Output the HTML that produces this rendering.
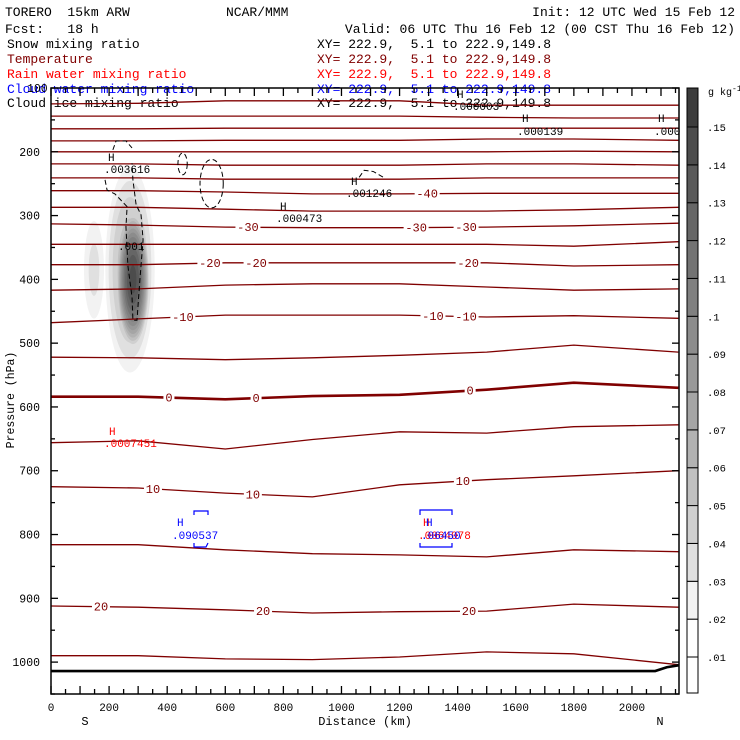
<!DOCTYPE html>
<html><head><meta charset="utf-8">
<style>
html,body{margin:0;padding:0;background:#fff;}
svg{display:block;}
text{font-family:"Liberation Mono",monospace;white-space:pre;}
</style></head>
<body>
<svg id="chart" width="740" height="740" viewBox="0 0 740 740" xmlns="http://www.w3.org/2000/svg" xml:space="preserve">
<g font-size="13">
<text x="5" y="16">TORERO  15km ARW</text>
<text x="226" y="16">NCAR/MMM</text>
<text x="735" y="16" text-anchor="end">Init: 12 UTC Wed 15 Feb 12</text>
<text x="5" y="33">Fcst:   18 h</text>
<text x="735" y="33" text-anchor="end">Valid: 06 UTC Thu 16 Feb 12 (00 CST Thu 16 Feb 12)</text>
<text x="7" y="48">Snow mixing ratio</text>
<text x="7" y="63" fill="#800000">Temperature</text>
<text x="7" y="78" fill="#ff0000">Rain water mixing ratio</text>
<text x="7" y="93" fill="#0000ff">Cloud water mixing ratio</text>
<text x="7" y="107">Cloud ice mixing ratio</text>
<text x="317" y="48">XY= 222.9,  5.1 to 222.9,149.8</text>
<text x="317" y="63" fill="#800000">XY= 222.9,  5.1 to 222.9,149.8</text>
<text x="317" y="78" fill="#ff0000">XY= 222.9,  5.1 to 222.9,149.8</text>
<text x="317" y="93" fill="#0000ff">XY= 222.9,  5.1 to 222.9,149.8</text>
<text x="317" y="107">XY= 222.9,  5.1 to 222.9,149.8</text>
</g>
<g id="shade"></g>
<g id="temps"></g>
<g id="ice"></g>
<g id="tlabels"></g>
<g id="ground"></g>
<g id="axes"></g>
<g font-size="11">
<text x="108" y="161">H</text>
<text x="104" y="173">.003616</text>
<text x="118" y="250">.001</text>
<text x="280" y="210">H</text>
<text x="276" y="222">.000473</text>
<text x="351" y="185">H</text>
<text x="346" y="197">.001246</text>
<text x="457" y="98">H</text>
<text x="453" y="110">.000003</text>
<text x="522" y="122">H</text>
<text x="517" y="135">.000139</text>
<text x="658" y="122">H</text>
<text x="654" y="135">.000</text>
<text x="109" y="435" fill="#ff0000">H</text>
<text x="104" y="447" fill="#ff0000">.0007451</text>
<text x="177" y="526" fill="#0000ff">H</text>
<text x="172" y="539" fill="#0000ff">.090537</text>
<text x="423" y="526" fill="#ff0000">H</text>
<text x="426" y="526" fill="#0000ff">H</text>
<text x="418" y="539" fill="#ff0000">.0064078</text>
<text x="421" y="539" fill="#0000ff">.06450</text>
<path d="M194,515 V511 H208 V515 M194,543 V547 H206 L208,543" fill="none" stroke="#0000ff" stroke-width="1.2"/>
<path d="M420,515 V510 H452 V515 M420,543 V547 H452 V543" fill="none" stroke="#0000ff" stroke-width="1.2"/>
</g>
<g id="cbar"></g>
<text x="708" y="95" font-size="10">g kg<tspan dy="-4" font-size="8">-1</tspan></text>
<text x="14" y="400" font-size="11.5" transform="rotate(-90 14 400)" text-anchor="middle" font-family="Liberation Sans">Pressure (hPa)</text>
<text x="365" y="725" font-size="12" text-anchor="middle">Distance (km)</text>
<text x="85" y="725" font-size="12" text-anchor="middle">S</text>
<text x="660" y="725" font-size="12" text-anchor="middle">N</text>
</svg>
<script>
// ---- data ----
const dists = [0, 300, 600, 900, 1200, 1500, 1800, 2160];
const tempLevels = [-75,-70,-65,-60,-55,-50,-45,-40,-35,-30,-25,-20,-15,-10,-5,0,5,10,15,20,25];
const tempP = [
 [125,124,120,120,120,127,127,127],
 [144,144,144,144,144,146,147,147],
 [164,164,163,163,163,163,163,163],
 [183,183,182,182,182,180,180,182],
 [200,200,200,200,200,200,199,200],
 [219,219,221,221,221,219,219,221],
 [241,241,243,243,243,241,241,241],
 [261,261,263,266,266,265,265,265],
 [287,287,290,293,293,293,291,287],
 [313,315,318,319,319,318,316,312],
 [345,345,345,345,345,345,348,341],
 [377,377,374,374,374,374,379,377],
 [417,415,409,407,407,412,417,415],
 [468,462,456,456,456,459,457,461],
 [522,523,526,523,519,514,503,514],
 [584,584,588,583,581,573,562,570],
 [656,653,666,651,639,641,631,628],
 [725,727,735,741,722,714,708,700],
 [816,816,824,830,832,835,824,827],
 [912,914,918,923,921,920,909,914],
 [990,990,995,996,992,984,987,1004]
];
const labelLevels = [-40,-30,-30,-30,-20,-20,-20,-10,-10,-10,0,0,0,10,10,10,20,20,20];
const labelDists  = [1295,678,1257,1429,547,706,1436,454,1315,1429,406,706,1443,351,695,1418,172,730,1439];
const groundDists = [0, 2080, 2120, 2160];
const groundP = [1014, 1014, 1008, 1005];
const shadeLevels = [0.01,0.02,0.03,0.04,0.05,0.06,0.07,0.08,0.09,0.10,0.11,0.12,0.13,0.14,0.15];
const shadeColors = ["#ffffff","#f2f2f2","#e0e0e0","#d0d0d0","#c0c0c0","#b2b2b2","#a5a5a5","#999999","#8c8c8c","#808080","#737373","#666666","#595959","#4c4c4c","#3c3c3c"];
const blobDist = [272, 282, 148];
const blobP = [385, 400, 385];
const blobSx = [95, 62, 45];
const blobSy = [180, 115, 100];
const blobPeak = [0.06, 0.145, 0.034];
const iceOvalDist = [453, 553];
const iceOvalP = [219, 250];
const iceOvalRx = [16, 40];
const iceOvalRy = [17, 38];
const iceArchD = [213,224,258,279];
const iceArchP = [197,183,183,194];
const iceTallD = [186,193,220,262,258,265,279,282,296,306,317,310,293,282,279];
const iceTallP = [244,260,266,286,318,380,428,464,464,401,338,299,283,244,218];
const iceSmallD = [1061,1078,1110,1144];
const iceSmallP = [240,229,231,240];
const pTicks = [100,200,300,400,500,600,700,800,900,1000];
const dTicks = [0,200,400,600,800,1000,1200,1400,1600,1800,2000];
const cbarLabels = [".01",".02",".03",".04",".05",".06",".07",".08",".09",".1",".11",".12",".13",".14",".15"];

// ---- axes ----
const L=51,R=679,T=88,B=694, DMAX=2162, PMIN=100, PMAX=1050;
const X = d => L + d*(R-L)/DMAX;
const Y = p => T + (p-PMIN)*(B-T)/(PMAX-PMIN);
const NS='http://www.w3.org/2000/svg';
function mk(tag, attrs, parent){const e=document.createElementNS(NS,tag);for(const k in attrs)e.setAttribute(k,attrs[k]);parent.appendChild(e);return e;}

// shading
const shade=document.getElementById('shade');
shadeLevels.forEach((lv,i)=>{
  blobDist.forEach((bd,j)=>{
    if(lv>=blobPeak[j]) return;
    const r=Math.sqrt((blobPeak[j]-lv)/(blobPeak[j]-0.01));
    const e=mk('ellipse',{cx:X(bd),cy:Y(blobP[j]),rx:(X(blobSx[j]*r)-L),ry:(Y(PMIN+blobSy[j]*r)-T),fill:shadeColors[i]},shade);
    
    
  });
});

// temperature contours
const temps=document.getElementById('temps');
tempLevels.forEach((lv,i)=>{
  const pts=dists.map((d,k)=>X(d).toFixed(1)+','+Y(tempP[i][k]).toFixed(1)).join(' ');
  const e=mk('polyline',{points:pts,fill:'none',stroke:'#800000','stroke-width':lv===0?2.6:1.3},temps);
  
  
});
function interpP(lv,d){const i=tempLevels.indexOf(lv);for(let k=0;k<dists.length-1;k++){if(d>=dists[k]&&d<=dists[k+1]){const t=(d-dists[k])/(dists[k+1]-dists[k]);return tempP[i][k]+t*(tempP[i][k+1]-tempP[i][k]);}}return tempP[i][0];}
const tl=document.getElementById('tlabels');
labelLevels.forEach((lv,i)=>{
  const x=X(labelDists[i]), y=Y(interpP(lv,labelDists[i]));
  const s=String(lv); const w=s.length*7+4;
  const r=mk('rect',{x:x-w/2,y:y-6,width:w,height:12,fill:'#fff'},tl);
  
  
  const t=mk('text',{x:x,y:y+4,'text-anchor':'middle','font-size':12,fill:'#800000'},tl);
  t.textContent=s;
  
  
});

// cloud ice dashed
const ice=document.getElementById('ice');
iceOvalDist.forEach((d,i)=>{
  const e=mk('ellipse',{cx:X(d),cy:Y(iceOvalP[i]),rx:X(iceOvalRx[i])-L,ry:Y(PMIN+iceOvalRy[i])-T,fill:'none',stroke:'#000','stroke-width':1,'stroke-dasharray':'5,3'},ice);
  
  
});
[[iceArchD,iceArchP],[iceTallD,iceTallP],[iceSmallD,iceSmallP]].forEach(([dd,pp])=>{
  const e=mk('polyline',{points:dd.map((d,k)=>X(d)+','+Y(pp[k])).join(' '),fill:'none',stroke:'#000','stroke-width':1,'stroke-dasharray':'5,3'},ice);
  
  
});

// ground
const g=document.getElementById('ground');
const ge=mk('polyline',{points:groundDists.map((d,k)=>X(d)+','+Y(groundP[k])).join(' '),fill:'none',stroke:'#000','stroke-width':2.6},g);



// axes
const ax=document.getElementById('axes');
const fr=mk('rect',{x:L,y:T,width:R-L,height:B-T,fill:'none',stroke:'#000','stroke-width':1.5},ax);


for(let p=PMIN;p<=PMAX;p+=50){
  const len=(p%100===0)?7:4, y=Y(p);
  mk('line',{x1:L,x2:L+len,y1:y,y2:y,stroke:'#000','stroke-width':1.3},ax);
  mk('line',{x1:R,x2:R-len,y1:y,y2:y,stroke:'#000','stroke-width':1.3},ax);
}
for(let d=0;d<=DMAX;d+=50){
  const len=(d%100===0)?8:5, x=X(d);
  mk('line',{x1:x,x2:x,y1:B,y2:B-len,stroke:'#000','stroke-width':1.3},ax);
  mk('line',{x1:x,x2:x,y1:T,y2:T+len,stroke:'#000','stroke-width':1.3},ax);
}
pTicks.forEach(p=>{
  if(p===100) return;
  const t=mk('text',{x:40,y:Y(p)+4,'text-anchor':'end','font-size':11.5,'font-family':'Liberation Sans'},ax);
  t.textContent=p;
  
  
});
const t100=mk('text',{x:27,y:Y(100)+4,'font-size':11.5,'font-family':'Liberation Sans'},ax);
t100.textContent='100';


dTicks.forEach(d=>{
  const t=mk('text',{x:X(d),y:711,'text-anchor':'middle','font-size':11,'font-family':'Liberation Sans'},ax);
  t.textContent=d;
  
  
});

// colorbar
const cb=document.getElementById('cbar');
const CX=687,CW=11,CT=88,CB=693;
const bnd=i=>127+(657-127)*(14-i)/14;
for(let i=0;i<=15;i++){
  const top = i===15?CT:bnd(i);
  const bot = i===0?CB:bnd(i-1);
  const fill = i===0?'#ffffff':shadeColors[i-1];
  const r=mk('rect',{x:CX,y:top,width:CW,height:bot-top,fill:fill,stroke:'#000','stroke-width':1},cb);
  
  
}
cbarLabels.forEach((s,i)=>{
  const t=mk('text',{x:707,y:bnd(i)+4,'font-size':10.5,'font-family':'Liberation Sans'},cb);
  t.textContent=s;
  
  
});
</script>
</body></html>
